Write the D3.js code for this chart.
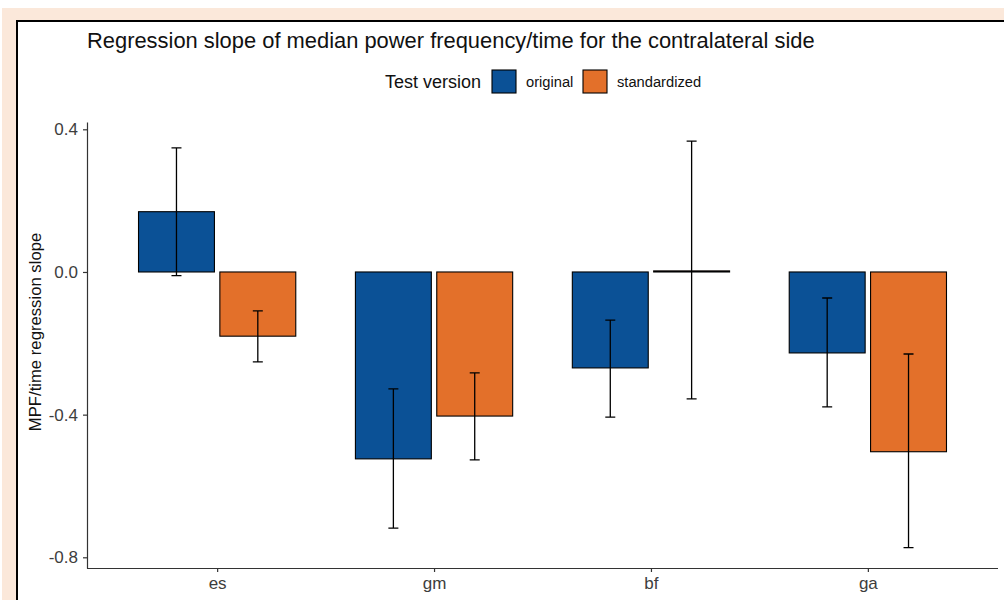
<!DOCTYPE html>
<html>
<head>
<meta charset="utf-8">
<script src="https://cdn.jsdelivr.net/npm/d3@7"></script>
<style>
  body { margin: 0; background: #fff; }
  svg { display: block; font-family: "Liberation Sans", Arial, sans-serif; }
</style>
</head>
<body>
<svg id="chart" width="1004" height="600"></svg>
<script>
// values
const categories = ["es", "gm", "bf", "ga"];
const versions = ["original", "standardized"];
const versionColors = ["#0b5196", "#e3702a"];

const originalMean = [0.169, -0.524, -0.269, -0.227];
const originalLow = [-0.010, -0.718, -0.407, -0.378];
const originalHigh = [0.348, -0.328, -0.135, -0.073];

const standardizedMean = [-0.180, -0.404, 0.003, -0.504];
const standardizedLow = [-0.252, -0.527, -0.356, -0.773];
const standardizedHigh = [-0.109, -0.283, 0.367, -0.230];

const yTicks = [-0.8, -0.4, 0.0, 0.4];

const data = [];
categories.forEach((c, i) => {
  data.push({ cat: c, ver: 0, mean: originalMean[i], lo: originalLow[i], hi: originalHigh[i] });
  data.push({ cat: c, ver: 1, mean: standardizedMean[i], lo: standardizedLow[i], hi: standardizedHigh[i] });
});

const svg = d3.select("#chart");
const width = 1004, height = 600;
const plot = { left: 87, right: 998, top: 122, bottom: 568 };

// page frame: peach margin with a black edge round the white panel
svg.append("rect").attr("x", 2).attr("y", 8).attr("width", width).attr("height", height)
  .attr("fill", "#fbe8da");
svg.append("rect").attr("x", 17).attr("y", 21).attr("width", width).attr("height", height)
  .attr("fill", "#fff");
svg.append("path").attr("d", `M17,${height} V21 H${width}`)
  .attr("fill", "none").attr("stroke", "#000").attr("stroke-width", 2);

const x = d3.scalePoint()
  .domain(categories)
  .range([plot.left, plot.right])
  .padding(0.6);
const step = x.step();
const dodge = 0.375 * step;   // position_dodge(0.75)
const barW = 0.35 * step;     // width 0.7 split over two bars
const capW = 10;

const y = d3.scaleLinear()
  .domain([-0.83, 0.4205])
  .range([plot.bottom, plot.top]);

const cx = d => x(d.cat) + (d.ver - 0.5) * dodge;

// bars
svg.append("g").selectAll("rect")
  .data(data)
  .join("rect")
  .attr("x", d => cx(d) - barW / 2)
  .attr("y", d => y(Math.max(0, d.mean)))
  .attr("width", barW)
  .attr("height", d => Math.abs(y(d.mean) - y(0)))
  .attr("fill", d => versionColors[d.ver])
  .attr("stroke", "#000")
  .attr("stroke-width", 1.1);

// error bars
const eb = svg.append("g").attr("stroke", "#000").attr("stroke-width", 1.3).attr("fill", "none");
eb.selectAll("path")
  .data(data)
  .join("path")
  .attr("d", d => {
    const c = cx(d), t = y(d.hi), b = y(d.lo);
    return `M${c - capW / 2},${t}H${c + capW / 2}M${c},${t}V${b}M${c - capW / 2},${b}H${c + capW / 2}`;
  });

// axes
const yAxis = svg.append("g")
  .attr("transform", `translate(${plot.left},0)`)
  .call(d3.axisLeft(y).tickValues(yTicks).tickFormat(d => d.toFixed(1)).tickSize(4).tickSizeOuter(0));
const xAxis = svg.append("g")
  .attr("transform", `translate(0,${plot.bottom})`)
  .call(d3.axisBottom(x).tickSize(4).tickSizeOuter(0));
xAxis.select(".domain").attr("d", `M${plot.left},0.5H${plot.right}`);

[yAxis, xAxis].forEach(g => {
  g.select(".domain").attr("stroke", "#333").attr("stroke-width", 1.2);
  g.selectAll(".tick line").attr("stroke", "#333").attr("stroke-width", 1.2);
  g.selectAll(".tick text").attr("fill", "#3d3d3d").style("font-size", "17px")
    .style("font-family", "Liberation Sans, Arial, sans-serif");
});
yAxis.selectAll(".tick text").attr("x", -9);
xAxis.selectAll(".tick text").attr("y", 9);

// y axis title
svg.append("text")
  .attr("transform", "translate(41,332) rotate(-90)")
  .attr("text-anchor", "middle")
  .style("font-size", "16.7px")
  .attr("fill", "#111")
  .text("MPF/time regression slope");

// title
svg.append("text")
  .attr("x", plot.left)
  .attr("y", 48)
  .style("font-size", "21.9px")
  .attr("fill", "#111")
  .text("Regression slope of median power frequency/time for the contralateral side");

// legend
const legend = svg.append("g");
legend.append("text")
  .attr("x", 385).attr("y", 88)
  .style("font-size", "18px")
  .attr("fill", "#111")
  .text("Test version");
const keyX = [492, 583];
const labelX = [526, 617];
versions.forEach((v, i) => {
  legend.append("rect")
    .attr("x", keyX[i]).attr("y", 70)
    .attr("width", 24).attr("height", 23)
    .attr("fill", versionColors[i])
    .attr("stroke", "#000").attr("stroke-width", 1.1);
  legend.append("text")
    .attr("x", labelX[i]).attr("y", 87)
    .style("font-size", "14.7px")
    .attr("fill", "#111")
    .text(v);
});
</script>
</body>
</html>
